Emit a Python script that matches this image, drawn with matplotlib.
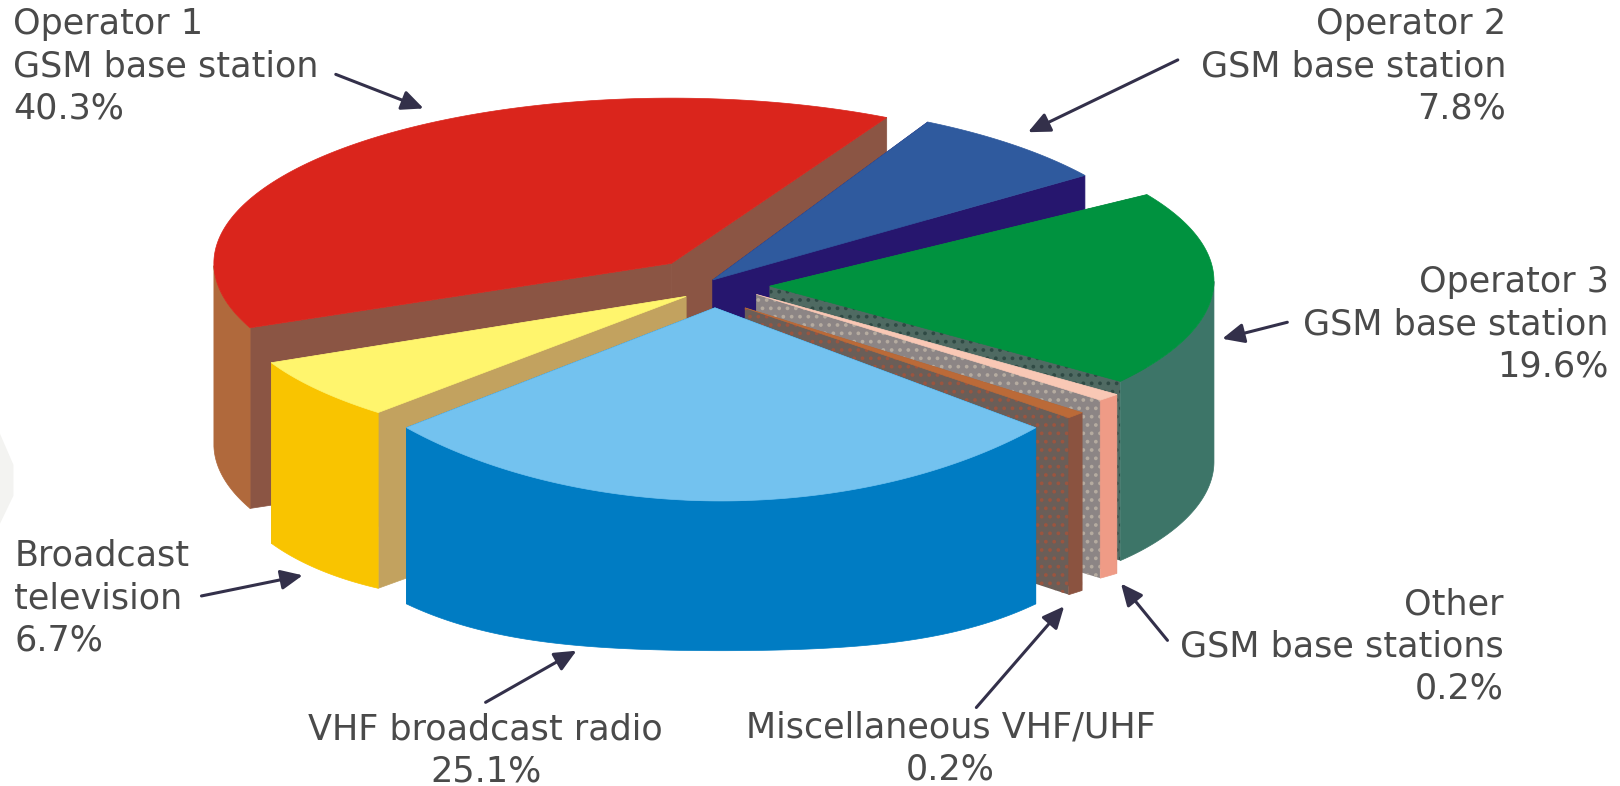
import numpy as np
import matplotlib
matplotlib.use("Agg")
import matplotlib.pyplot as plt
from matplotlib.patches import Polygon

# clockwise from the top, as in the picture
names = ["Operator 2\nGSM base station", "Operator 3\nGSM base station",
         "Other\nGSM base stations", "Miscellaneous VHF/UHF",
         "VHF broadcast radio", "Broadcast\ntelevision", "Operator 1\nGSM base station"]
shares = [7.8, 19.6, 0.2, 0.2, 25.1, 6.7, 40.3]

top_colors = ["#2F5A9E", "#00923F", "#F9C8B5", "#BB6A38", "#73C2EF", "#FFF56D", "#DA251C"]
rim_colors = ["#2F5A9E", "#3D7568", "#EF9B86", "#8B5340", "#007CC3", "#F9C400", "#B0693C"]
face_colors = ["#26166E", "#4F6A62", "#8C8585", "#6A5E58", "#007CC3", "#C2A25F", "#8B5544"]
face_hatch = [None, "..", "..", "..", None, None, None]
hatch_colors = ["#26166E", "#2F4A44", "#B5ABA0", "#9A5540", "#007CC3", "#C2A25F", "#8B5544"]

# the drawing is exploded and distorted, each slice has its own ellipse
# tip x, tip y, centre x, centre y, rx, ry
shape = [(690, 271, 690, 270, 443, 172),
         (745, 277, 735, 272, 440, 160),
         (732, 285, 735, 302, 443, 128),
         (721, 298, 720, 291, 443, 161),
         (692, 298, 698, 226, 443, 259),
         (664, 287, 665, 288, 443, 151),
         (650, 255, 650, 255, 443, 160)]
# small corrections in degrees to where each slice starts and stops
pads = [(0, 1.7), (-2.4, -0.8), (-2, -4.5), (-5, -6.7), (-8.5, -5), (-4, -2.7), (-4.5, -0.4)]
draw_order = [6, 0, 1, 2, 3, 5, 4]

start_angle = 62

label_anchor = [(1458, 64, "right"), (1557, 314, "right"), (1455, 626, "right"),
                (920, 725, "center"), (470, 727, "center"), (14, 579, "left"), (13, 64, "left")]
arrows = [((1140, 58), (995, 128)), ((1246, 312), (1183, 328)), ((1130, 620), (1085, 565)),
          ((945, 685), (1030, 587)), ((470, 680), (558, 630)), ((195, 577), (293, 557)),
          ((325, 72), (410, 105))]

plt.rcParams["hatch.linewidth"] = 1.5

fig = plt.figure(figsize=(16.2, 7.86), dpi=100)
ax = fig.add_axes([0, 0, 1, 1])
ax.set_xlim(0, 1568)
ax.set_ylim(761, 0)
ax.axis("off")

ax.add_patch(Polygon([(0, 420), (13, 450), (13, 480), (0, 507)], fc="#F3F3F1", ec="none"))


def depth(sin_a):
    s = np.clip(-sin_a, 0, 1)
    return 175 - 30 * s**6


stops = start_angle - np.cumsum(shares) * 3.6
starts = np.r_[start_angle, stops[:-1]]

for i in draw_order:
    tx, ty, cx, cy, rx, ry = shape[i]
    ang = np.radians(np.linspace(starts[i] + pads[i][0], stops[i] + pads[i][1], 160))
    x = cx + rx * np.cos(ang)
    y = cy - ry * np.sin(ang)
    yb = y + depth(np.sin(ang))

    for j in [0, -1]:
        face = [(tx, ty), (x[j], y[j]), (x[j], yb[j]), (tx, ty + 175)]
        if face_hatch[i]:
            ax.add_patch(Polygon(face, fc=face_colors[i], ec=hatch_colors[i], lw=0, hatch=face_hatch[i]))
        else:
            ax.add_patch(Polygon(face, fc=face_colors[i], ec=face_colors[i], lw=0.5))

    # only the front half of the rim can be seen
    front = np.sin(ang) <= 0
    if front.any():
        rim = np.r_[np.c_[x[front], y[front]], np.c_[x[front], yb[front]][::-1]]
        ax.add_patch(Polygon(rim, fc=rim_colors[i], ec=rim_colors[i], lw=0.5))

    top = np.r_[[(tx, ty)], np.c_[x, y]]
    ax.add_patch(Polygon(top, fc=top_colors[i], ec=top_colors[i], lw=0.5))

for i, name in enumerate(names):
    tx, ty, ha = label_anchor[i]
    ax.text(tx, ty, f"{name}\n{shares[i]}%", ha=ha, va="center", fontsize=25.2,
            color="#4A4A4A", linespacing=1.3, family="DejaVu Sans")
    ax.annotate("", xy=arrows[i][1], xytext=arrows[i][0],
                arrowprops=dict(arrowstyle="-|>,head_length=1.1,head_width=0.5", color="#33304A",
                                lw=2.2, shrinkA=0, shrinkB=0, mutation_scale=12))

fig.savefig("out.png", dpi=100)
